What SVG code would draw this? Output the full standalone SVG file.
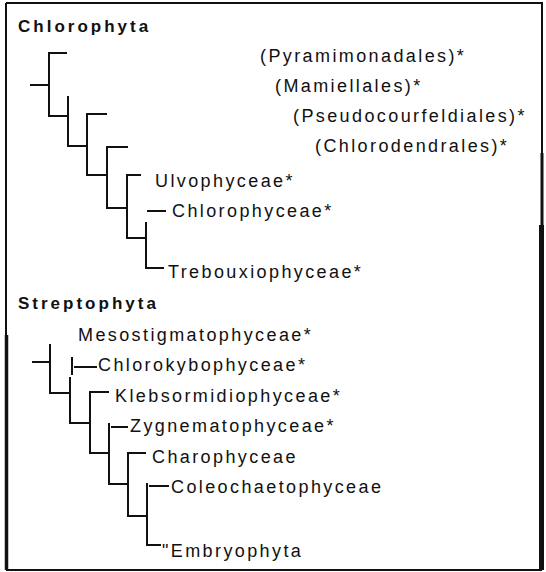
<svg xmlns="http://www.w3.org/2000/svg" width="546" height="572" viewBox="0 0 546 572">
<style>
.t{font-family:"Liberation Sans",Arial,sans-serif;font-size:18px;letter-spacing:2.4px;fill:#111}
.h{font-family:"Liberation Sans",Arial,sans-serif;font-size:17px;font-weight:bold;letter-spacing:3px;fill:#111}
.e{stroke:#111;stroke-width:2;fill:none;stroke-linecap:square}
.f{stroke:#111;fill:none}
</style>
<rect width="546" height="572" fill="#fff"/>
<g id="frame">
<path class="f" stroke-width="2" d="M6,3 H542 V153"/>
<path class="f" stroke-width="3" d="M542,153 V225"/>
<path class="f" stroke-width="5" d="M541.5,225 V570"/>
<path class="f" stroke-width="2" d="M6,3 V335"/>
<path class="f" stroke-width="3.5" d="M6.5,335 V570"/>
<path class="f" stroke-width="2" d="M6,570 H542"/>
</g>
<g id="connectors">
<path class="e" d="M31,85 H49 M49,53 V116 M49,53 H66 M49,116 H68 M68,97 V146 M68,146 H87 M87,114 V175 M87,114 H106 M87,175 H107 M107,147 V208 M107,147 H127 M107,208 H127 M127,175 V238 M127,175 H140 M127,238 H146 M146,223 V268 M146,268 H163 M148,211 H165"/>
<path class="e" d="M33,362 H50 M50,345 V393 M50,393 H70 M72,358 V374 M75,367 H96 M70,378 V423 M70,423 H89 M90,392 V453 M90,392 H108 M90,453 H109 M109,424 V484 M112,427 H127 M109,484 H128 M128,453 V516 M128,453 H145 M128,516 H147 M147,484 V545 M150,486 H168 M147,545 H160"/>
</g>
<g id="title-chlorophyta"><text class="h" x="18" y="32">Chlorophyta</text></g>
<g id="pyramimonadales"><text class="t" x="260" y="62">(Pyramimonadales)*</text></g>
<g id="mamiellales"><text class="t" x="275" y="92">(Mamiellales)*</text></g>
<g id="pseudocourfeldiales"><text class="t" x="293" y="122">(Pseudocourfeldiales)*</text></g>
<g id="chlorodendrales"><text class="t" x="315" y="152">(Chlorodendrales)*</text></g>
<g id="ulvophyceae"><text class="t" x="155" y="187">Ulvophyceae*</text></g>
<g id="chlorophyceae"><text class="t" x="172" y="217">Chlorophyceae*</text></g>
<g id="trebouxiophyceae"><text class="t" x="168" y="278">Trebouxiophyceae*</text></g>
<g id="title-streptophyta"><text class="h" x="18" y="309">Streptophyta</text></g>
<g id="mesostigmatophyceae"><text class="t" x="78" y="341">Mesostigmatophyceae*</text></g>
<g id="chlorokybophyceae"><text class="t" x="98" y="371">Chlorokybophyceae*</text></g>
<g id="klebsormidiophyceae"><text class="t" x="115" y="402">Klebsormidiophyceae*</text></g>
<g id="zygnematophyceae"><text class="t" x="130" y="432">Zygnematophyceae*</text></g>
<g id="charophyceae"><text class="t" x="152" y="463">Charophyceae</text></g>
<g id="coleochaetophyceae"><text class="t" x="171" y="493">Coleochaetophyceae</text></g>
<g id="embryophyta"><text class="t" x="162" y="557">"Embryophyta</text></g>
</svg>
